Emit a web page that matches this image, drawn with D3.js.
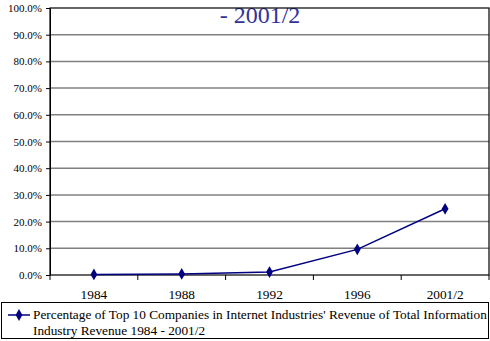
<!DOCTYPE html>
<html><head><meta charset="utf-8">
<script src="https://cdn.jsdelivr.net/npm/d3@7"></script>
<style>body{margin:0;background:#fff}svg{display:block}</style>
</head><body>
<svg id="c" width="490" height="341"></svg>
<script>
const categories = ["1984", "1988", "1992", "1996", "2001/2"];
const values = [0.2, 0.4, 1.1, 9.6, 24.8];
const yTicks = [0, 10, 20, 30, 40, 50, 60, 70, 80, 90, 100];
const titleLines = ["Percentage of Top 10 Companies' Revenue 1984", "- 2001/2"];
const seriesName = ["Percentage of Top 10 Companies in Internet Industries' Revenue of Total Information", "Industry Revenue 1984 - 2001/2"];

const svg = d3.select("#c");
const FF = '"Liberation Serif"';
const L = 50, R = 489, T = 8, B = 275;
const x = d3.scaleBand().domain(categories).range([L, R]);
const y = d3.scaleLinear().domain([0, 100]).range([B, T]);

// title
svg.append("g").selectAll("text").data(titleLines).join("text")
  .attr("x", 260).attr("y", (d, i) => -5 + i * 28)
  .attr("text-anchor", "middle").style("font-family", FF).attr("font-size", 24)
  .attr("fill", "#333399").text(d => d);

// gridlines
svg.append("g").selectAll("line").data(yTicks.filter(v => v > 0 && v < 100)).join("line")
  .attr("x1", L).attr("x2", R).attr("y1", d => y(d)).attr("y2", d => y(d))
  .attr("stroke", "#808080").attr("stroke-width", 1.5);

// plot frame
svg.append("rect").attr("x", L).attr("y", T).attr("width", R - L).attr("height", B - T)
  .attr("fill", "none").attr("stroke", "#000").attr("stroke-width", 1.2);

// y axis
const ya = svg.append("g").attr("transform", `translate(${L},0)`)
  .call(d3.axisLeft(y).tickValues(yTicks).tickFormat(d => d.toFixed(1) + "%").tickSize(4).tickSizeOuter(0));
ya.select(".domain").attr("stroke", "#000");
ya.selectAll("text").style("font-family", FF).attr("font-size", 11).attr("fill", "#000").attr("dx", "-1");

// x axis
const xa = svg.append("g").attr("transform", `translate(0,${B})`)
  .call(d3.axisBottom(x).tickSize(0).tickSizeOuter(0));
xa.select(".domain").remove();
xa.selectAll("text").style("font-family", FF).attr("font-size", 13.3).attr("fill", "#000").attr("dy", "1.55em");
const bounds = categories.map(c => x(c)).concat([R]);
svg.append("g").selectAll("line").data(bounds).join("line")
  .attr("x1", d => d).attr("x2", d => d).attr("y1", B).attr("y2", B + 5)
  .attr("stroke", "#000").attr("stroke-width", 1);

// series
const cx = c => x(c) + x.bandwidth() / 2;
const data = categories.map((c, i) => ({c, v: values[i]}));
svg.append("path").datum(data)
  .attr("d", d3.line().x(d => cx(d.c)).y(d => y(d.v)))
  .attr("fill", "none").attr("stroke", "#000080").attr("stroke-width", 1.5);
const diamond = d3.symbol().type(d3.symbolDiamond).size(40);
svg.append("g").selectAll("path").data(data).join("path")
  .attr("transform", d => `translate(${cx(d.c)},${y(d.v)})`)
  .attr("d", diamond).attr("fill", "#000080");

// legend
svg.append("rect").attr("x", 1.5).attr("y", 302.5).attr("width", 487).attr("height", 36)
  .attr("fill", "#fff").attr("stroke", "#000").attr("stroke-width", 1);
svg.append("line").attr("x1", 8).attr("x2", 30).attr("y1", 315).attr("y2", 315)
  .attr("stroke", "#000080").attr("stroke-width", 1.5);
svg.append("path").attr("transform", "translate(19,315)").attr("d", diamond).attr("fill", "#000080");
svg.append("g").selectAll("text").data(seriesName).join("text")
  .attr("x", 33).attr("y", (d, i) => 319 + i * 16)
  .style("font-family", FF).attr("font-size", 13.3).attr("fill", "#000").text(d => d);
</script>
</body></html>
